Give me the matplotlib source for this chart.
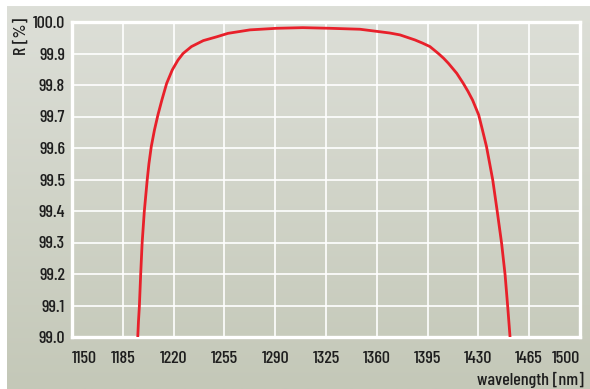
import numpy as np
import matplotlib
matplotlib.use("Agg")
import matplotlib.pyplot as plt
from matplotlib import font_manager as fm
from matplotlib.colors import LinearSegmentedColormap

names = {f.name for f in fm.fontManager.ttflist}
prefs = ["Barlow Condensed", "Roboto Condensed", "Fira Sans Condensed", "Archivo Narrow",
         "PT Sans Narrow", "Liberation Sans Narrow", "Open Sans Condensed", "DejaVu Sans"]
family = next(p for p in prefs if p in names)
plt.rcParams['font.family'] = [family, 'DejaVu Sans']

wavelength = [1195.3, 1195.8, 1196.4, 1197.3, 1198.3, 1199.8, 1201.8, 1203.0, 1204.6,
              1206.8, 1209.2, 1211.9, 1215.2, 1219.1, 1223.0, 1226.5, 1232.3, 1240.5,
              1249.7, 1257.5, 1272.6, 1291.0, 1309.0, 1327.8, 1348.4, 1362.2, 1369.0,
              1376.0, 1386.3, 1391.5, 1396.6, 1402.4, 1406.0, 1409.3, 1412.2, 1415.1,
              1419.6, 1422.8, 1426.0, 1430.2, 1432.8, 1435.6, 1437.8, 1439.9, 1443.0,
              1446.0, 1448.4, 1450.2, 1451.8]
reflectance = [99.0, 99.05, 99.096, 99.197, 99.297, 99.398, 99.498, 99.55, 99.604,
               99.657, 99.705, 99.752, 99.805, 99.848, 99.879, 99.90, 99.922, 99.941,
               99.953, 99.964, 99.975, 99.980, 99.982, 99.980, 99.977, 99.969, 99.965,
               99.959, 99.943, 99.933, 99.922, 99.90, 99.885, 99.869, 99.853, 99.837,
               99.805, 99.78, 99.752, 99.705, 99.657, 99.604, 99.55, 99.498, 99.398,
               99.297, 99.197, 99.096, 99.0]
x_ticks = [1150, 1185, 1220, 1255, 1290, 1325, 1360, 1395, 1430, 1465, 1500]
y_ticks = [99.0, 99.1, 99.2, 99.3, 99.4, 99.5, 99.6, 99.7, 99.8, 99.9, 100.0]

W, H = 590, 389
fig = plt.figure(figsize=(W / 100, H / 100), dpi=100)
fig.patch.set_facecolor('white')

bg = fig.add_axes([7 / W, 0, 1 - 7 / W, 1 - 6 / H], zorder=0)
cmap = LinearSegmentedColormap.from_list('bg', ['#dddfd8', '#c4c8b8'])
grad = np.linspace(0, 1, 256).reshape(-1, 1)
bg.imshow(grad, aspect='auto', cmap=cmap, extent=[0, 1, 0, 1], origin='upper')
bg.set_axis_off()

ax = fig.add_axes([72 / W, 1 - 337 / H, (580 - 72) / W, (337 - 22) / H], zorder=1)
ax.set_facecolor('none')
ax.plot(wavelength, reflectance, color='#e8202a', lw=2.0, zorder=3,
        solid_joinstyle='round', solid_capstyle='butt')
ax.set_xlim(1150, 1500)
ax.set_ylim(99.0, 100.0)
ax.set_xticks(x_ticks)
ax.set_yticks(y_ticks)
ax.grid(True, color='white', lw=1.2)
ax.set_axisbelow(True)
for s in ax.spines.values():
    s.set_color('white')
    s.set_linewidth(2.4)
ax.tick_params(length=0, labelsize=13, labelcolor='#1e1e1e', pad=5)
ax.set_xticklabels([str(t) for t in x_ticks])
ax.set_yticklabels([f"{t:.1f}" for t in y_ticks])
for lab in ax.get_xticklabels() + ax.get_yticklabels():
    lab.set_fontweight('medium')
ax.tick_params(axis='x', pad=10)
xl = ax.get_xticklabels()
xl[0].set_ha('left')
xl[-1].set_ha('right')

fig.text(21 / W, 1 - 36 / H, 'R [%]', rotation=90, ha='center', va='center',
         fontsize=13, color='#1e1e1e', fontweight='medium')
fig.text(584 / W, 1 - 380 / H, 'wavelength [nm]', ha='right', va='center',
         fontsize=13, color='#1e1e1e', fontweight='medium')

fig.savefig('out.png', dpi=100)
